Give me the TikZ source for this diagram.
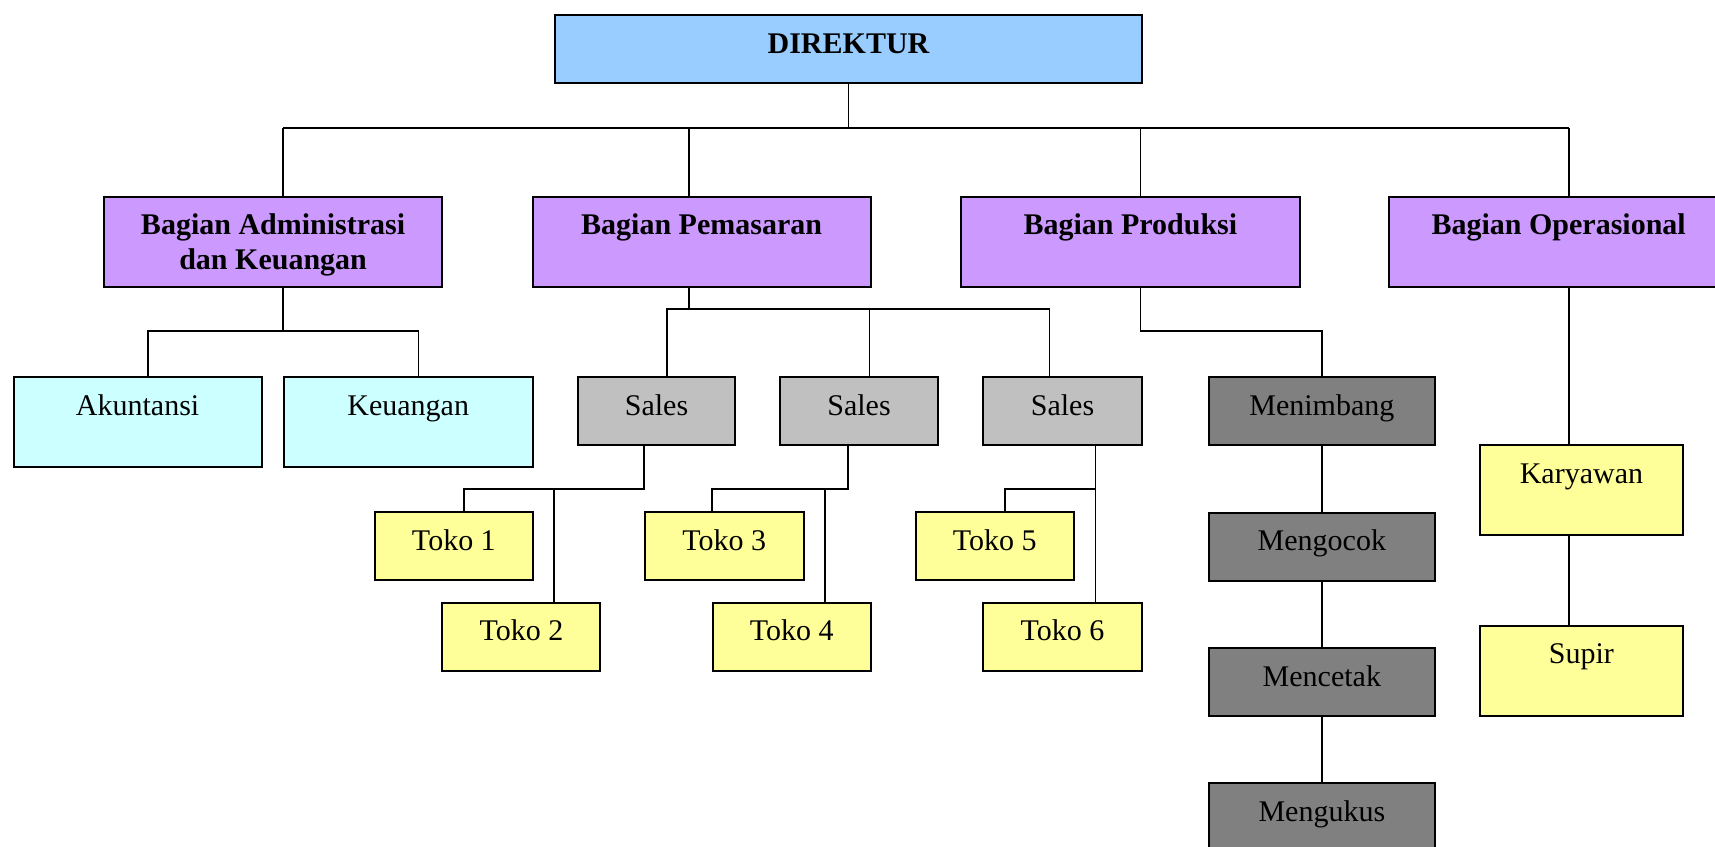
\documentclass[tikz,border=0pt]{standalone}
\usepackage{fontspec}
\setmainfont{Liberation Serif}
\definecolor{cdir}{HTML}{99CCFF}
\definecolor{cdept}{HTML}{CC99FF}
\definecolor{csub}{HTML}{CCFFFF}
\definecolor{csales}{HTML}{C0C0C0}
\definecolor{cproc}{HTML}{808080}
\definecolor{ctoko}{HTML}{FFFF99}
\tikzset{
  box/.style={draw=black, line width=2pt, inner sep=0pt, anchor=north west, align=center,
    text height=38pt, font=\fontsize{30}{35}\selectfont},
  short/.style={minimum height=68pt, text depth=30pt},
  tall/.style={minimum height=90.4pt, text depth=52.4pt},
  conn/.style={line width=1.4pt, draw=black},
  bfont/.style={font=\fontsize{30}{35}\selectfont\bfseries}
}
\begin{document}
\begin{tikzpicture}[x=1pt,y=-1pt]
\useasboundingbox (0,0) rectangle (1715,846);
\clip (0,0) rectangle (1715,846);
% boxes
\node[box, short, bfont, fill=cdir, minimum width=587pt] (dir) at (554,14) {DIREKTUR};
\node[box, tall, bfont, fill=cdept, minimum width=338.6pt, text height=73pt, text depth=17.4pt] (adm) at (102.8,195.7) {Bagian Administrasi\\dan Keuangan};
\node[box, tall, bfont, fill=cdept, minimum width=338.2pt] (pem) at (531.5,195.7) {Bagian Pemasaran};
\node[box, tall, bfont, fill=cdept, minimum width=338.2pt] (pro) at (960.3,195.7) {Bagian Produksi};
\node[box, tall, bfont, fill=cdept, minimum width=338.6pt] (ope) at (1388.4,195.7) {Bagian Operasional};
\node[box, tall, fill=csub, minimum width=248pt] (aku) at (12.6,376) {Akuntansi};
\node[box, tall, fill=csub, minimum width=248.5pt] (keu) at (283,376) {Keuangan};
\node[box, short, fill=csales, minimum width=157pt] (s1) at (577,376) {Sales};
\node[box, short, fill=csales, minimum width=158pt] (s2) at (779,376) {Sales};
\node[box, short, fill=csales, minimum width=158.3pt] (s3) at (982.4,376) {Sales};
\node[box, short, fill=cproc, minimum width=225.7pt] (p1) at (1208,376) {Menimbang};
\node[box, short, fill=cproc, minimum width=225.7pt] (p2) at (1208,511.7) {Mengocok};
\node[box, short, fill=cproc, minimum width=225.7pt] (p3) at (1208,647) {Mencetak};
\node[box, short, fill=cproc, minimum width=225.7pt] (p4) at (1208,782.3) {Mengukus};
\node[box, tall, fill=ctoko, minimum width=203.1pt] (kar) at (1478.9,444) {Karyawan};
\node[box, tall, fill=ctoko, minimum width=203.1pt] (sup) at (1478.9,624.7) {Supir};
\node[box, short, fill=ctoko, minimum width=158.3pt] (t1) at (373.7,511.3) {Toko 1};
\node[box, short, fill=ctoko, minimum width=158pt] (t2) at (441.4,601.7) {Toko 2};
\node[box, short, fill=ctoko, minimum width=158.5pt] (t3) at (644,511.3) {Toko 3};
\node[box, short, fill=ctoko, minimum width=158pt] (t4) at (711.8,601.7) {Toko 4};
\node[box, short, fill=ctoko, minimum width=158.4pt] (t5) at (914.5,511.3) {Toko 5};
\node[box, short, fill=ctoko, minimum width=158.3pt] (t6) at (982.4,601.7) {Toko 6};
% junction coordinates
\coordinate (busy) at (0,128);
\coordinate (jA) at (283,128);
\coordinate (jP) at (689,128);
\coordinate (jR) at (1140.7,128);
\coordinate (jO) at (1568.8,128);
\coordinate (aA) at (283,331);
\coordinate (aL) at (148,331);
\coordinate (aR) at (418.5,331);
\coordinate (pA) at (689,309);
\coordinate (pL) at (667,309);
\coordinate (pM) at (869.5,309);
\coordinate (pR) at (1049.7,309);
\coordinate (rA) at (1140.7,331);
\coordinate (s1a) at (644,489);
\coordinate (s1l) at (463.8,489);
\coordinate (s1m) at (554,489);
\coordinate (s2a) at (848,489);
\coordinate (s2l) at (711.8,489);
\coordinate (s2m) at (824.9,489);
\coordinate (s3a) at (1095.5,489);
\coordinate (s3l) at (1005,489);
% level 1
\draw[conn] (dir.south) -- (dir.south |- busy);
\draw[conn] (jA) -- (jO);
\draw[conn] (jA) -- (jA |- adm.north);
\draw[conn] (jP) -- (jP |- pem.north);
\draw[conn] (jR) -- (jR |- pro.north);
\draw[conn] (jO) -- (jO |- ope.north);
% admin
\draw[conn] (aA |- adm.south) -- (aA);
\draw[conn] (aL |- aku.north) -- (aL) -- (aR) -- (aR |- keu.north);
% pemasaran
\draw[conn] (pA |- pem.south) -- (pA);
\draw[conn] (pL |- s1.north) -- (pL) -- (pR) -- (pR |- s3.north);
\draw[conn] (pM) -- (pM |- s2.north);
% produksi
\draw[conn] (rA |- pro.south) -- (rA) -| (p1.north);
\draw[conn] (p1.south) -- (p2.north);
\draw[conn] (p2.south) -- (p3.north);
\draw[conn] (p3.south) -- (p4.north);
% operasional
\draw[conn] (jO |- ope.south) -- (jO |- kar.north);
\draw[conn] (jO |- kar.south) -- (jO |- sup.north);
% sales
\draw[conn] (s1a |- s1.south) -- (s1a) -- (s1l) -- (s1l |- t1.north);
\draw[conn] (s1m) -- (s1m |- t2.north);
\draw[conn] (s2a |- s2.south) -- (s2a) -- (s2l) -- (s2l |- t3.north);
\draw[conn] (s2m) -- (s2m |- t4.north);
\draw[conn] (s3a |- s3.south) -- (s3a |- t6.north);
\draw[conn] (s3a) -- (s3l) -- (s3l |- t5.north);
\end{tikzpicture}
\end{document}
